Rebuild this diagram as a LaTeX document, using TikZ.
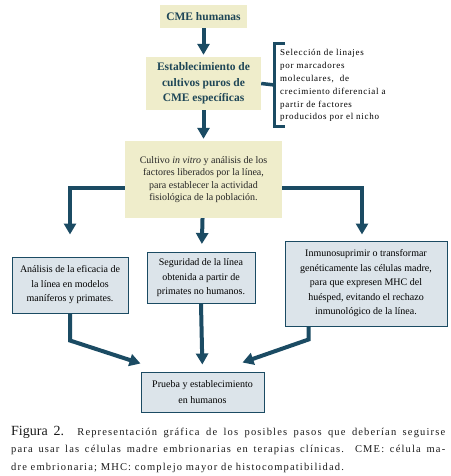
\documentclass[tikz,border=0pt]{standalone}
\usepackage{fontspec}
\setmainfont{Liberation Serif}
\newfontfamily\notafont{Liberation Serif}[LetterSpace=8]
\newfontfamily\piefont{Liberation Serif}[LetterSpace=11]
\usetikzlibrary{arrows.meta}
\definecolor{flecha}{HTML}{1B4B63}
\definecolor{crema}{HTML}{EFEDCB}
\definecolor{celeste}{HTML}{DCE4EA}
\definecolor{tinta}{HTML}{1E4657}

\begin{document}
\begin{tikzpicture}[x=1pt, y=-1pt,
      every node/.style = {inner sep=0pt, align=center},
      paso/.style = {fill=crema, text=tinta,
        font=\bfseries\fontsize{11.5}{15.5}\selectfont},
      cultivo/.style = {fill=crema, text=black!85,
        font=\fontsize{10}{12.5}\selectfont},
      meta/.style = {fill=celeste, draw=flecha, line width=1pt,
        font=\fontsize{10}{14.5}\selectfont},
      pie/.style = {anchor=base west, text=black!90,
        font=\piefont\fontsize{10.5}{15}\selectfont},
      flujo/.style = {draw=flecha, line width=4pt,
        -{Triangle[width=12pt,length=11pt]}},
      linea/.style = {draw=flecha, line width=3.5pt}]
  \useasboundingbox (0,0) rectangle (450,476);

  \node[paso, minimum width=87pt, minimum height=23pt] (hum) at (203.5,16.5) {CME humanas};
  \node[paso, minimum width=115pt, minimum height=53pt] (est) at (203.5,83.5)
    {Establecimiento de\\cultivos puros de\\CME específicas};
  \node[cultivo, minimum width=157pt, minimum height=77pt] (cult) at (203.5,179.5)
    {Cultivo \emph{in vitro} y análisis de los\\factores liberados por la línea,\\para establecer la actividad\\fisiológica de la población.};
  \node[meta, minimum width=116pt, minimum height=56pt] (ana) at (70,285)
    {Análisis de la eficacia de\\la línea en modelos\\maníferos y primates.};
  \node[meta, minimum width=108pt, minimum height=51pt] (seg) at (201,278)
    {Seguridad de la línea\\obtenida a partir de\\primates no humanos.};
  \node[meta, minimum width=162pt, minimum height=85pt] (inm) at (366,283.5)
    {Inmunosuprimir o transformar\\genéticamente las células madre,\\para que expresen MHC del\\huésped, evitando el rechazo\\inmunológico de la línea.};
  \node[meta, minimum width=123pt, minimum height=40pt,
    font=\fontsize{10}{16}\selectfont] (prueba) at (202.5,392)
    {Prueba y establecimiento\\en humanos};

  % llave con la nota
  \coordinate (llave) at (274.5,85);
  \draw[linea] (est.east) -- (llave);
  \draw[linea, line width=3pt] (285,44) -- (274.5,44) -- (274.5,126) -- (285,126);
  \node[anchor=north west, align=left, font=\notafont\fontsize{9}{12.9}\selectfont]
    (nota) at (280,49) {Selección de linajes\\por marcadores\\moleculares,\ \ de\\crecimiento diferencial a\\partir de factores\\producidos por el nicho};

  % flechas
  \draw[flujo, shorten >=2pt] (hum) -- (est);
  \draw[flujo, shorten >=2pt] (est) -- (cult);
  \draw[flujo, shorten >=8pt] (cult) -- (seg);
  \draw[flujo, shorten >=22pt] ([yshift=-8pt]cult.west) -| (ana.north);
  \draw[flujo, shorten >=6pt] ([yshift=-8pt]cult.east) -| ([xshift=-4pt]inm.north);
  \coordinate (llegaI) at ([yshift=8pt]prueba.north west);
  \coordinate (llegaD) at ([xshift=-22pt,yshift=9pt]prueba.north east);
  \draw[flujo] (ana.south) -- ++(0,27) -- (llegaI);
  \draw[flujo, shorten >=7pt] (seg.south) -- (prueba.north);
  \draw[flujo] ([xshift=24pt]inm.south west) -- ++(0,13) -- (llegaD);

  % pie de figura
  \node[pie] (pie1) at (11,435) {\makebox[434pt][s]{{\rmfamily\fontsize{14}{15}\selectfont Figura 2.} Representación gráfica de los posibles pasos que deberían seguirse}};
  \node[pie] (pie2) at (11,452.5) {\makebox[434pt][s]{para usar las células madre embrionarias en terapias clínicas. CME: célula ma-}};
  \node[pie] (pie3) at (11,470) {dre embrionaria; MHC: complejo mayor de histocompatibilidad.};
\end{tikzpicture}
\end{document}
